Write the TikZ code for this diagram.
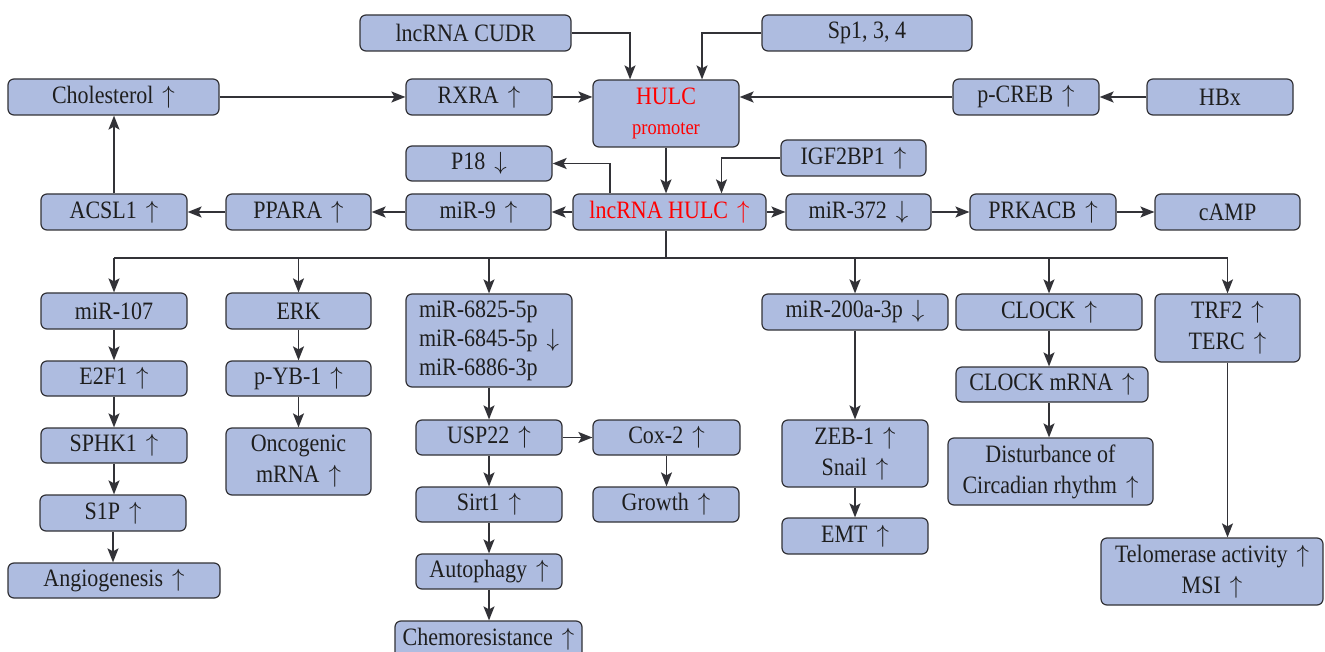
\documentclass[tikz,border=0pt]{standalone}
\usepackage{fontspec}
\newfontfamily\diagfont{Liberation Serif}[FakeStretch=0.88]
\usetikzlibrary{arrows.meta}
\definecolor{boxfill}{RGB}{174,188,224}
\definecolor{boxline}{RGB}{50,50,55}
\definecolor{txt}{RGB}{30,30,30}
\newcommand\upa{\hspace{0.36em}$\uparrow$}
\newcommand\dna{\hspace{0.36em}$\downarrow$}
\newcommand\mybox[7][]{\node[box,minimum width={(#5-#3)*1pt},minimum height={(#6-#4)*1pt},#1] (#2) at ({(#3+#5)/2},{(#4+#6)/2}) {#7};}
\tikzset{
  box/.style={draw=boxline, fill=boxfill, rounded corners=6pt, line width=1.2pt, inner sep=0pt, align=center, text=txt, font=\diagfont\fontsize{25}{31}\selectfont},
  conn/.style={draw=boxline, line width=1.6pt},
  arr/.style={conn, -{Stealth[length=14pt,width=11pt,inset=3pt]}}
}
\begin{document}
\begin{tikzpicture}[x=1pt,y=-1pt]
\useasboundingbox[fill=white] (0,0) rectangle (1325,652);
% top
\mybox{cudr}{360}{15}{571}{51}{lncRNA CUDR}
\mybox{sp}{762}{15}{972}{51}{Sp1, 3, 4}
\mybox{chol}{8}{79}{219}{115}{Cholesterol\upa}
\mybox{rxra}{406}{79}{552}{115}{RXRA\upa}
\mybox[text=red]{prom}{593}{80}{739}{147}{HULC\\[-1pt]{\fontsize{21}{25}\selectfont promoter}}
\mybox{pcreb}{953}{79}{1099}{115}{p-CREB\upa}
\mybox{hbx}{1147}{79}{1293}{115}{HBx}
\mybox{p18}{406}{146}{552}{181}{P18\dna}
\mybox{igf}{781}{140}{926}{176}{IGF2BP1\upa}
% middle row
\mybox{acsl}{41}{194}{187}{230}{ACSL1\upa}
\mybox{ppara}{226}{194}{371}{230}{PPARA\upa}
\mybox{mir9}{406}{194}{551}{230}{miR-9\upa}
\mybox[text=red]{hulc}{573}{194}{766}{230}{lncRNA HULC\upa}
\mybox{mir372}{786}{194}{931}{230}{miR-372\dna}
\mybox{prkacb}{970}{194}{1116}{230}{PRKACB\upa}
\mybox{camp}{1155}{194}{1300}{230}{cAMP}
% column 1
\mybox{mir107}{41}{293}{187}{329}{miR-107}
\mybox{e2f1}{41}{361}{187}{396}{E2F1\upa}
\mybox{sphk}{41}{428}{187}{463}{SPHK1\upa}
\mybox{s1p}{40}{495}{186}{531}{S1P\upa}
\mybox{angio}{8}{563}{220}{598}{Angiogenesis\upa}
% column 2
\mybox{erk}{226}{293}{371}{329}{ERK}
\mybox{pyb}{226}{361}{371}{396}{p-YB-1\upa}
\mybox{onco}{226}{428}{371}{495}{Oncogenic\\mRNA\upa}
% column 3
\mybox[align=left,font=\diagfont\fontsize{25}{29}\selectfont]{mirs}{406}{294}{572}{387}{miR-6825-5p\\miR-6845-5p\dna\\miR-6886-3p}
\mybox{usp}{416}{420}{562}{455}{USP22\upa}
\mybox{sirt}{416}{487}{562}{522}{Sirt1\upa}
\mybox{auto}{416}{554}{562}{589}{Autophagy\upa}
\mybox{chemo}{395}{621}{582}{658}{Chemoresistance\upa}
\mybox{cox}{593}{420}{740}{455}{Cox-2\upa}
\mybox{growth}{593}{487}{739}{522}{Growth\upa}
% column 4
\mybox{mir200}{762}{294}{948}{330}{miR-200a-3p\dna}
\mybox{zeb}{782}{420}{928}{487}{ZEB-1\upa\\Snail\upa}
\mybox{emt}{782}{518}{928}{554}{EMT\upa}
% column 5
\mybox{clock}{956}{294}{1142}{330}{CLOCK\upa}
\mybox{clockm}{956}{367}{1148}{402}{CLOCK mRNA\upa}
\mybox{dist}{948}{438}{1153}{505}{Disturbance of\\Circadian rhythm\upa}
% column 6
\mybox{trf}{1155}{294}{1300}{362}{TRF2\upa\\TERC\upa}
\mybox{telo}{1101}{538}{1323}{605}{Telomerase activity\upa\\MSI\upa}
% connectors top
\draw[arr] (cudr.east) -| ([xshift=-36pt]prom.north);
\draw[arr] (sp.west) -| ([xshift=36pt]prom.north);
\draw[arr] (chol.east) -- (rxra.west);
\draw[arr] (rxra.east) -- (rxra.east -| prom.west);
\draw[arr] (pcreb.west) -- (pcreb.west -| prom.east);
\draw[arr] (hbx.west) -- (pcreb.east);
\draw[arr] (prom.south) -- (prom.south |- hulc.north);
\draw[arr] (igf.west) -| ([xshift=52pt]hulc.north);
\draw[arr] ([xshift=-59.5pt]hulc.north) |- (p18.east);
\draw[arr] (hulc.west) -- (mir9.east);
\draw[arr] (mir9.west) -- (ppara.east);
\draw[arr] (ppara.west) -- (acsl.east);
\draw[arr] (acsl.north) -- (acsl.north |- chol.south);
\draw[arr] (hulc.east) -- (mir372.west);
\draw[arr] (mir372.east) -- (prkacb.west);
\draw[arr] (prkacb.east) -- (camp.west);
% bus
\coordinate (bus) at (666,258);
\draw[conn] (prom.south |- hulc.south) -- (bus);
\draw[conn] (bus -| mir107.north) -- (bus -| trf.north);
\draw[arr] (bus -| mir107.north) -- (mir107.north);
\draw[arr] (bus -| erk.north) -- (erk.north);
\draw[arr] (bus -| mirs.north) -- (mirs.north);
\draw[arr] (bus -| mir200.north) -- (mir200.north);
\draw[arr] (bus -| clock.north) -- (clock.north);
\draw[arr] (bus -| trf.north) -- (trf.north);
% chains
\draw[arr] (mir107.south) -- (e2f1.north);
\draw[arr] (e2f1.south) -- (sphk.north);
\draw[arr] (sphk.south) -- (sphk.south |- s1p.north);
\draw[arr] (s1p.south) -- (s1p.south |- angio.north);
\draw[arr] (erk.south) -- (pyb.north);
\draw[arr] (pyb.south) -- (onco.north);
\draw[arr] (mirs.south) -- (usp.north);
\draw[arr] (usp.south) -- (sirt.north);
\draw[arr] (sirt.south) -- (auto.north);
\draw[arr] (auto.south) -- (auto.south |- chemo.north);
\draw[arr] (usp.east) -- (cox.west);
\draw[arr] (cox.south) -- (cox.south |- growth.north);
\draw[arr] (mir200.south) -- (mir200.south |- zeb.north);
\draw[arr] (zeb.south) -- (emt.north);
\draw[arr] (clock.south) -- (clock.south |- clockm.north);
\draw[arr] (clock.south |- clockm.south) -- (clock.south |- dist.north);
\draw[arr] (trf.south) -- (trf.south |- telo.north);
\end{tikzpicture}
\end{document}
